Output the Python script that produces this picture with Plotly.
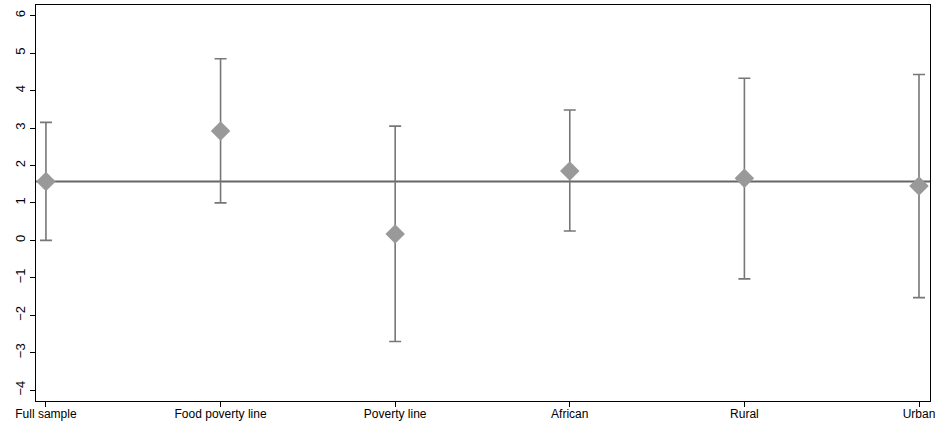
import plotly.graph_objects as go

categories = ["Full sample", "Food poverty line", "Poverty line", "African", "Rural", "Urban"]
estimates = [1.57, 2.92, 0.17, 1.85, 1.66, 1.45]
upper = [3.15, 4.85, 3.05, 3.48, 4.33, 4.43]
lower = [0.0, 1.0, -2.70, 0.25, -1.03, -1.53]
reference_value = 1.57
y_ticks = [-4, -3, -2, -1, 0, 1, 2, 3, 4, 5, 6]

x_idx = list(range(len(categories)))
err_plus = [u - e for u, e in zip(upper, estimates)]
err_minus = [e - l for e, l in zip(estimates, lower)]

fig = go.Figure()
fig.add_shape(type="line", xref="paper", x0=0, x1=1, yref="y",
              y0=reference_value, y1=reference_value,
              line=dict(color="#666666", width=2), layer="below")
fig.add_trace(go.Scatter(
    x=x_idx, y=estimates, mode="markers",
    marker=dict(symbol="diamond", size=15, color="#999999", line=dict(width=0)),
    error_y=dict(type="data", symmetric=False, array=err_plus, arrayminus=err_minus,
                 color="#777777", thickness=1.6, width=6),
    showlegend=False,
))

fig.update_layout(
    width=938, height=424,
    margin=dict(l=36, r=8, t=5, b=23),
    paper_bgcolor="white", plot_bgcolor="white",
    font=dict(family="Liberation Sans, Arial, sans-serif", size=12, color="black"),
)
fig.update_xaxes(
    range=[-0.057, 5.063], tickvals=x_idx, ticktext=categories,
    showgrid=False, zeroline=False, showline=True, linecolor="black", linewidth=1,
    mirror=True, ticks="outside", ticklen=5, tickcolor="black",
    tickfont=dict(size=12), automargin=False, ticklabelstandoff=-3,
)
fig.update_yaxes(
    range=[-4.29, 6.285], tickvals=y_ticks, tickangle=-90,
    showgrid=False, zeroline=False, showline=True, linecolor="black", linewidth=1,
    mirror=True, ticks="outside", ticklen=5, tickcolor="black",
    tickfont=dict(size=13), automargin=False,
)
fig.write_html(
    "out.html",
    config={"displayModeBar": False},
    post_script="document.body.style.margin='0';document.body.style.overflow='hidden';",
)
